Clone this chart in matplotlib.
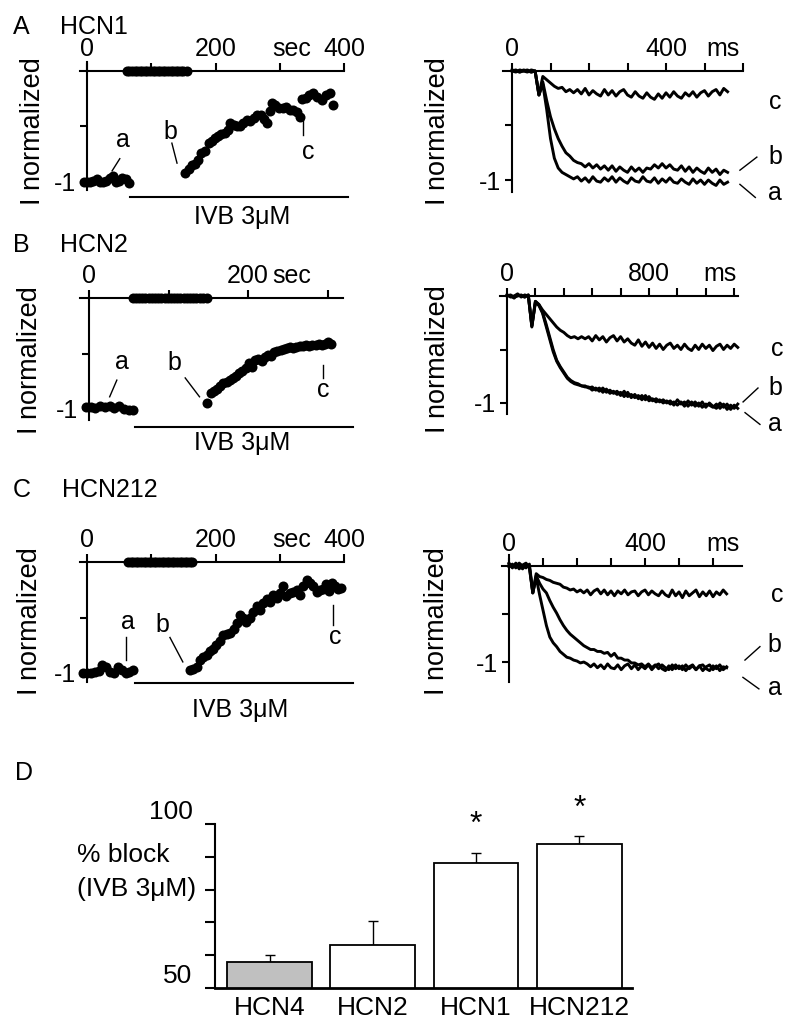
import numpy as np
import matplotlib
matplotlib.use('Agg')
import matplotlib.pyplot as plt

plt.rcParams['font.family'] = ['Liberation Sans', 'DejaVu Sans']
FS = 18
FSD = 19
FSY = 19.5
W, H = 800, 1026

# ---------------- time-course data (sec, normalized current) ----------------
A_ctrl_t = [-5, 0, 5, 10, 15, 20, 25, 30, 35, 40, 45, 50, 55, 60, 65]
A_ctrl_y = [-1.0, -1.0, -1.0, -0.99, -0.97, -1.0, -1.0, -0.99, -0.96, -0.95, -1.0, -0.99, -0.96, -0.97, -1.01]
A_gap_t = [62, 66, 70, 74, 78, 82, 86, 90, 94, 98, 102, 106, 110, 114, 118, 122, 126, 130, 134, 138, 142, 146, 150, 155]
A_gap_y = [0.0] * 24
A_ivb_t = [152, 158, 163, 168, 173, 178, 183, 189, 194, 199, 204, 209, 214, 219, 222, 228, 233, 238, 243, 249,
           254, 259, 264, 270, 275, 280, 284, 287, 292, 298, 305, 310, 316, 321, 326, 331, 335, 340, 346, 352,
           358, 365, 371, 378, 383]
A_ivb_y = [-0.92, -0.88, -0.85, -0.84, -0.80, -0.74, -0.72, -0.65, -0.63, -0.60, -0.59, -0.57, -0.56, -0.53, -0.47,
           -0.49, -0.50, -0.50, -0.47, -0.44, -0.45, -0.42, -0.40, -0.40, -0.43, -0.47, -0.36, -0.29, -0.31, -0.33,
           -0.33, -0.32, -0.35, -0.35, -0.37, -0.41, -0.25, -0.24, -0.22, -0.20, -0.23, -0.26, -0.22, -0.20, -0.31]

B_ctrl_t = [-4, 2, 8, 14, 20, 26, 32, 38, 44, 50, 55]
B_ctrl_y = [-0.98, -0.98, -0.99, -0.97, -0.98, -0.97, -0.99, -0.97, -1.0, -1.01, -1.01]
B_gap_t = [55, 59, 63, 67, 71, 75, 79, 83, 87, 91, 95, 99, 103, 107, 111, 115, 119, 123, 127, 131, 135, 139, 143, 148]
B_gap_y = [0.0] * 24
B_ivb_t = [148, 153, 157, 161, 165, 169, 173, 177, 181, 185, 189, 193, 197, 201, 205, 209, 213, 217, 221, 225,
           229, 233, 237, 241, 245, 249, 253, 257, 261, 265, 269, 273, 277, 281, 285, 289, 293, 297, 301, 305]
B_ivb_y = [-0.95, -0.86, -0.84, -0.82, -0.79, -0.77, -0.76, -0.74, -0.72, -0.70, -0.68, -0.66, -0.63, -0.59, -0.62,
           -0.56, -0.55, -0.57, -0.53, -0.51, -0.52, -0.49, -0.48, -0.47, -0.46, -0.45, -0.44, -0.45, -0.44, -0.43,
           -0.43, -0.42, -0.43, -0.42, -0.42, -0.41, -0.42, -0.41, -0.40, -0.41]

C_ctrl_t = [-6, 0, 6, 12, 18, 24, 30, 36, 42, 48, 54, 60, 66, 72]
C_ctrl_y = [-1.0, -1.0, -1.0, -0.99, -0.98, -0.93, -0.95, -0.99, -1.0, -0.95, -0.97, -1.0, -0.99, -0.97]
C_gap_t = [64, 68, 72, 76, 80, 84, 88, 92, 96, 100, 104, 108, 112, 116, 120, 124, 128, 132, 136, 140, 144, 148,
           152, 156, 160, 163]
C_gap_y = [0.0] * 26
C_ivb_t = [160, 165, 171, 176, 181, 186, 191, 196, 201, 207, 212, 217, 222, 228, 233, 238, 243, 248, 253, 258,
           264, 269, 274, 280, 285, 290, 295, 300, 305, 310, 316, 321, 326, 331, 336, 342, 347, 352, 357, 362,
           367, 372, 377, 381, 386, 390, 395]
C_ivb_y = [-0.97, -0.96, -0.95, -0.88, -0.86, -0.84, -0.80, -0.78, -0.75, -0.71, -0.66, -0.65, -0.64, -0.60, -0.55,
           -0.48, -0.50, -0.54, -0.50, -0.45, -0.40, -0.43, -0.37, -0.33, -0.36, -0.30, -0.32, -0.28, -0.22, -0.31,
           -0.28, -0.27, -0.25, -0.30, -0.22, -0.16, -0.19, -0.22, -0.27, -0.25, -0.24, -0.20, -0.26, -0.19, -0.22,
           -0.24, -0.23]

# ---------------- current traces (ms, normalized current) ----------------
A_tr_t = np.arange(0, 561, 10)
A_tr_a = ([0.0, 0.01, -0.01, 0.0, 0.01, -0.01, 0.0] +
          [-0.22, -0.12, -0.35, -0.62, -0.80, -0.89, -0.93, -0.95, -0.97, -0.99] +
          [-0.97, -1.01, -0.98, -1.02, -0.97, -1.01, -1.02, -0.98, -1.01, -0.97,
           -1.02, -0.98, -1.01, -1.03, -0.98, -1.01, -1.02, -0.97, -1.01, -1.02,
           -0.98, -1.03, -0.99, -1.02, -0.98, -1.02, -1.03, -0.99, -1.02, -1.04,
           -0.99, -1.03, -1.00, -1.04, -1.00, -1.03, -1.05, -1.00, -1.04, -1.02])
A_tr_b = ([0.0, -0.01, 0.01, 0.0, -0.01, 0.01, 0.0] +
          [-0.22, -0.10, -0.27, -0.42, -0.53, -0.62, -0.69, -0.75, -0.78, -0.82, -0.84, -0.85] +
          [-0.88, -0.85, -0.89, -0.86, -0.90, -0.87, -0.91, -0.87, -0.92, -0.88,
           -0.91, -0.93, -0.88, -0.92, -0.89, -0.93, -0.89, -0.90, -0.86, -0.89,
           -0.85, -0.89, -0.86, -0.90, -0.91, -0.87, -0.92, -0.88, -0.93, -0.89,
           -0.92, -0.94, -0.89, -0.93, -0.90, -0.95, -0.91, -0.93])
A_tr_c = ([0.01, 0.0, -0.01, 0.01, 0.0, -0.01, 0.0] +
          [-0.22, -0.05, -0.08, -0.11, -0.14, -0.16, -0.15, -0.19, -0.17, -0.20] +
          [-0.17, -0.21, -0.16, -0.22, -0.18, -0.21, -0.23, -0.17, -0.22, -0.18,
           -0.23, -0.19, -0.17, -0.22, -0.24, -0.19, -0.23, -0.25, -0.20, -0.24,
           -0.26, -0.21, -0.25, -0.20, -0.24, -0.19, -0.23, -0.25, -0.20, -0.23,
           -0.19, -0.24, -0.20, -0.18, -0.23, -0.19, -0.17, -0.22, -0.16, -0.19])

B_tr_t = np.arange(0, 1301, 20)
B_tr_a = ([0.01, -0.01, 0.0, 0.02, -0.01, 0.01, 0.0] + [-0.28] +
          [-0.06, -0.09, -0.16, -0.28, -0.40, -0.52, -0.61, -0.67, -0.72, -0.77, -0.80, -0.82, -0.83, -0.84, -0.85] +
          [-0.85, -0.88, -0.86, -0.89, -0.86, -0.90, -0.88, -0.91, -0.89, -0.93,
           -0.89, -0.94, -0.92, -0.95, -0.93, -0.97, -0.93, -0.98, -0.96, -0.99,
           -0.97, -1.00, -0.98, -1.01, -0.99, -1.02, -0.99, -1.03, -0.98, -1.02,
           -0.99, -1.03, -0.99, -1.04, -1.00, -1.03, -1.05, -1.00, -1.04, -1.01,
           -1.06, -1.02, -1.05])
B_tr_b = ([0.0, 0.01, -0.01, 0.0, 0.01, -0.01, 0.01] + [-0.28] +
          [-0.05, -0.08, -0.15, -0.26, -0.38, -0.50, -0.60, -0.66, -0.71, -0.76, -0.79, -0.81, -0.82, -0.84, -0.84] +
          [-0.86, -0.85, -0.88, -0.86, -0.90, -0.87, -0.91, -0.89, -0.92, -0.90,
           -0.94, -0.90, -0.95, -0.92, -0.96, -0.93, -0.97, -0.94, -0.98, -0.96,
           -0.99, -0.97, -1.00, -0.98, -1.02, -0.97, -1.01, -0.99, -1.03, -0.99,
           -1.03, -1.00, -1.04, -1.01, -1.02, -1.04, -1.01, -1.05, -1.01, -1.06,
           -1.02, -1.05, -1.01])
B_tr_c = ([0.01, 0.0, -0.02, 0.01, 0.0, -0.01, 0.01] + [-0.29] +
          [-0.05, -0.08, -0.13, -0.17, -0.21, -0.25, -0.29, -0.32, -0.34, -0.37, -0.39, -0.38, -0.40, -0.38, -0.40] +
          [-0.38, -0.42, -0.37, -0.41, -0.38, -0.43, -0.39, -0.37, -0.42, -0.38,
           -0.43, -0.40, -0.44, -0.46, -0.41, -0.47, -0.43, -0.48, -0.44, -0.49,
           -0.45, -0.50, -0.46, -0.44, -0.49, -0.46, -0.50, -0.45, -0.49, -0.51,
           -0.46, -0.50, -0.45, -0.49, -0.46, -0.51, -0.47, -0.45, -0.50, -0.46,
           -0.49, -0.45, -0.48])

C_tr_t = np.arange(0, 641, 10)
C_tr_a = ([0.02, -0.02, 0.03, 0.0, -0.03, 0.02, -0.01] + [-0.28] +
          [-0.12, -0.30, -0.46, -0.62, -0.74, -0.80, -0.84, -0.89, -0.92, -0.95, -0.96, -0.98, -0.99, -1.01, -1.00] +
          [-1.02, -1.05, -1.02, -1.06, -1.03, -1.07, -1.02, -1.06, -1.07, -1.03,
           -1.08, -1.04, -1.02, -1.07, -1.03, -1.08, -1.04, -1.07, -1.03, -1.08,
           -1.04, -1.02, -1.07, -1.09, -1.04, -1.08, -1.03, -1.07, -1.04, -1.09,
           -1.05, -1.03, -1.08, -1.04, -1.09, -1.05, -1.03, -1.08, -1.04, -1.09,
           -1.05, -1.06])
C_tr_b = ([-0.01, 0.02, -0.02, 0.03, 0.0, -0.02, 0.02] + [-0.28] +
          [-0.10, -0.18, -0.24, -0.28, -0.36, -0.43, -0.49, -0.56, -0.62, -0.67, -0.71, -0.74, -0.77, -0.80, -0.83] +
          [-0.85, -0.87, -0.87, -0.89, -0.89, -0.91, -0.90, -0.94, -0.91, -0.96,
           -0.96, -0.98, -0.98, -1.01, -1.01, -1.03, -1.02, -1.05, -1.02, -1.06,
           -1.03, -1.07, -1.03, -1.06, -1.08, -1.03, -1.07, -1.04, -1.08, -1.03,
           -1.07, -1.04, -1.08, -1.04, -1.03, -1.07, -1.09, -1.04, -1.07, -1.03,
           -1.08, -1.05])
C_tr_c = ([0.03, -0.01, 0.02, -0.03, 0.01, 0.03, -0.02] + [-0.28] +
          [-0.08, -0.11, -0.12, -0.14, -0.15, -0.17, -0.18, -0.19, -0.22, -0.23, -0.25, -0.24, -0.27, -0.25, -0.28] +
          [-0.25, -0.30, -0.26, -0.24, -0.29, -0.25, -0.30, -0.26, -0.31, -0.26,
           -0.29, -0.25, -0.30, -0.27, -0.26, -0.31, -0.27, -0.25, -0.30, -0.26,
           -0.29, -0.31, -0.26, -0.30, -0.32, -0.25, -0.31, -0.27, -0.33, -0.26,
           -0.31, -0.28, -0.25, -0.32, -0.27, -0.31, -0.26, -0.32, -0.27, -0.30,
           -0.25, -0.29])

# ---------------- bar chart data ----------------
bar_labels = ['HCN4', 'HCN2', 'HCN1', 'HCN212']
block_pct = [57.9, 63.1, 88.1, 93.9]
block_sem = [2.2, 7.3, 3.1, 2.4]
bar_colors = ['#c0c0c0', 'white', 'white', 'white']
signif = [False, False, True, True]

fig = plt.figure(figsize=(8, 10.26), dpi=100)


def px_axes(box, x0, xs, y0, ys):
    left, top, right, bottom = box
    ax = fig.add_axes([left / W, 1 - bottom / H, (right - left) / W, (bottom - top) / H])
    ax.set_xlim((left - x0) / xs, (right - x0) / xs)
    ax.set_ylim((y0 - bottom) / ys, (y0 - top) / ys)
    ax.patch.set_visible(False)
    return ax


def style_ephys(ax, xb, yb, xticks, xlabels, unit, unit_x):
    for s in ['bottom', 'right']:
        ax.spines[s].set_visible(False)
    for s in ['top', 'left']:
        ax.spines[s].set_position(('data', 0))
        ax.spines[s].set_linewidth(1.5)
    ax.spines['top'].set_bounds(*xb)
    ax.spines['left'].set_bounds(*yb)
    ax.xaxis.tick_top()
    ax.set_xticks(xticks)
    ax.set_xticklabels(xlabels)
    ax.set_yticks([-1, -0.5])
    ax.set_yticklabels(['-1', ''])
    ax.tick_params(axis='x', direction='out', length=5.5, width=1.5, pad=1.5, labelsize=FS)
    ax.tick_params(axis='y', direction='out', length=5, width=1.5, pad=3, labelsize=FS)
    ax.annotate(unit, xy=(unit_x, 0), xycoords='data', xytext=(0, 7), textcoords='offset points',
                ha='center', va='bottom', fontsize=FS)


def label_line(ax, txt, pos, seg):
    ax.text(pos[0], pos[1], txt, ha='center', va='center', fontsize=FS)
    ax.plot(seg[0], seg[1], color='black', lw=1.0, clip_on=False)


def timecourse(ax, ctrl, gap, ivb):
    for t, y in (ctrl, gap, ivb):
        ax.scatter(t, y, s=52, color='black', linewidths=0, zorder=3, clip_on=False)


def fig_text(xp, yp, s, **kw):
    kw.setdefault('fontsize', FS)
    fig.text(xp / W, 1 - yp / H, s, **kw)


TLW = 2.1

# ---------------- Panel A ----------------
axA = px_axes((40, 35, 395, 230), 87, 0.643, 71, 111)
style_ephys(axA, (-11, 400), (-1.07, 0.08), [0, 100, 200, 300, 400], ['0', '', '200', '', '400'], 'sec', 319)
timecourse(axA, (A_ctrl_t, A_ctrl_y), (A_gap_t, A_gap_y), (A_ivb_t, A_ivb_y))
label_line(axA, 'a', (56, -0.62), ([39, 51], [-0.90, -0.79]))
label_line(axA, 'b', (129, -0.55), ([132, 140], [-0.65, -0.83]))
label_line(axA, 'c', (344, -0.73), ([336, 336], [-0.40, -0.58]))
axA.plot([67, 406], [-1.135, -1.135], color='black', lw=1.5, clip_on=False)
axA.text(241, -1.207, 'IVB 3μM', ha='center', va='top', fontsize=FS)

axAr = px_axes((470, 35, 790, 230), 512, 0.385, 71, 109)
style_ephys(axAr, (-23, 600), (-1.11, 0.0), [0, 100, 200, 300, 400, 500, 600],
            ['0', '', '', '', '400', '', ''], 'ms', 548)
for tr in (A_tr_a, A_tr_b, A_tr_c):
    axAr.plot(A_tr_t, tr, color='black', lw=TLW)
axAr.text(683, -0.28, 'c', ha='center', va='center', fontsize=FS)
label_line(axAr, 'b', (683, -0.79), ([592, 636], [-0.91, -0.79]))
label_line(axAr, 'a', (683, -1.12), ([592, 632], [-1.04, -1.16]))

# ---------------- Panel B ----------------
axB = px_axes((40, 260, 395, 455), 89, 0.795, 298, 111)
style_ephys(axB, (-11, 319), (-1.10, 0.0), [0, 100, 200, 300], ['0', '', '200', ''], 'sec', 255)
timecourse(axB, (B_ctrl_t, B_ctrl_y), (B_gap_t, B_gap_y), (B_ivb_t, B_ivb_y))
label_line(axB, 'a', (41, -0.58), ([26, 35], [-0.89, -0.74]))
label_line(axB, 'b', (108, -0.59), ([121, 139], [-0.72, -0.89]))
label_line(axB, 'c', (295, -0.83), ([294, 294], [-0.60, -0.72]))
axB.plot([58, 332], [-1.16, -1.16], color='black', lw=1.5, clip_on=False)
axB.text(192, -1.198, 'IVB 3μM', ha='center', va='top', fontsize=FS)

axBr = px_axes((470, 260, 790, 455), 507, 0.1775, 296, 107)
style_ephys(axBr, (-40, 1300), (-1.10, 0.02), [0, 160, 320, 480, 640, 800, 960, 1120, 1280],
            ['0', '', '', '', '', '800', '', '', ''], 'ms', 1200)
for tr in (B_tr_a, B_tr_b, B_tr_c):
    axBr.plot(B_tr_t, tr, color='black', lw=TLW)
axBr.text(1521, -0.50, 'c', ha='center', va='center', fontsize=FS)
label_line(axBr, 'b', (1510, -0.86), ([1330, 1414], [-0.99, -0.86]))
label_line(axBr, 'a', (1510, -1.20), ([1341, 1425], [-1.09, -1.20]))

# ---------------- Panel C ----------------
axC = px_axes((40, 520, 395, 720), 87, 0.643, 562, 111)
style_ephys(axC, (-11, 400), (-1.08, 0.0), [0, 100, 200, 300, 400], ['0', '', '200', '', '400'], 'sec', 319)
timecourse(axC, (C_ctrl_t, C_ctrl_y), (C_gap_t, C_gap_y), (C_ivb_t, C_ivb_y))
label_line(axC, 'a', (64, -0.54), ([61, 61], [-0.68, -0.88]))
label_line(axC, 'b', (118, -0.57), ([129, 149], [-0.68, -0.90]))
label_line(axC, 'c', (386, -0.68), ([383, 383], [-0.39, -0.57]))
axC.plot([75, 414], [-1.094, -1.094], color='black', lw=1.5, clip_on=False)
axC.text(238, -1.225, 'IVB 3μM', ha='center', va='top', fontsize=FS)

axCr = px_axes((470, 520, 790, 720), 509, 0.34, 566, 96)
style_ephys(axCr, (-21, 685), (-1.21, 0.11), [0, 100, 200, 300, 400, 500, 600],
            ['0', '', '', '', '400', '', ''], 'ms', 629)
for tr in (C_tr_a, C_tr_b, C_tr_c):
    axCr.plot(C_tr_t, tr, color='black', lw=TLW)
axCr.text(788, -0.30, 'c', ha='center', va='center', fontsize=FS)
label_line(axCr, 'b', (782, -0.82), ([694, 738], [-0.98, -0.84]))
label_line(axCr, 'a', (782, -1.27), ([688, 735], [-1.16, -1.28]))

# ---------------- Panel D ----------------
axD = px_axes((180, 790, 660, 988), 269.5, 103.3, 1152, 3.28)
xpos = np.arange(len(bar_labels))
axD.bar(xpos, block_pct, width=0.82, color=bar_colors, edgecolor='black', linewidth=1.3, zorder=2)
axD.errorbar(xpos, block_pct, yerr=[[0] * len(block_sem), block_sem], fmt='none', ecolor='black',
             elinewidth=1.0, capsize=3.6, capthick=1.0, zorder=1)
for xi, v, e, s in zip(xpos, block_pct, block_sem, signif):
    if s:
        axD.annotate('*', xy=(xi, v + e), xytext=(0, 9), textcoords='offset points',
                     ha='center', va='bottom', fontsize=23)
for s in ['top', 'right']:
    axD.spines[s].set_visible(False)
axD.spines['left'].set_position(('data', -0.53))
axD.spines['left'].set_bounds(50, 100)
axD.spines['bottom'].set_bounds(-0.53, 3.51)
axD.spines['left'].set_linewidth(1.5)
axD.spines['bottom'].set_linewidth(2.0)
axD.set_yticks([50, 60, 70, 80, 90, 100])
axD.set_yticklabels(['50', '', '', '', '', '100'])
axD.tick_params(axis='y', direction='out', length=7, width=1.5, pad=9, labelsize=FSD)
for lab in axD.get_yticklabels():
    lab.set_verticalalignment('bottom')
axD.set_xticks(xpos)
axD.set_xticklabels(bar_labels)
axD.tick_params(axis='x', length=0, pad=6, labelsize=FSD)

# ---------------- figure texts ----------------
fig_text(13, 27, 'A', ha='left', va='center')
fig_text(60, 27, 'HCN1', ha='left', va='center')
fig_text(13, 245, 'B', ha='left', va='center')
fig_text(60, 245, 'HCN2', ha='left', va='center')
fig_text(13, 490, 'C', ha='left', va='center')
fig_text(62, 490, 'HCN212', ha='left', va='center')
fig_text(15, 773, 'D', ha='left', va='center')
for xp, yp in [(33, 131), (438, 131), (30, 360), (438, 359), (30, 621), (437, 621)]:
    fig_text(xp, yp, 'I normalized', ha='center', va='center', rotation=90, fontsize=FSY)
fig_text(77, 855, '% block', ha='left', va='center', fontsize=FSD)
fig_text(77, 889, '(IVB 3μM)', ha='left', va='center', fontsize=FSD)

fig.savefig('out.png', dpi=100)
